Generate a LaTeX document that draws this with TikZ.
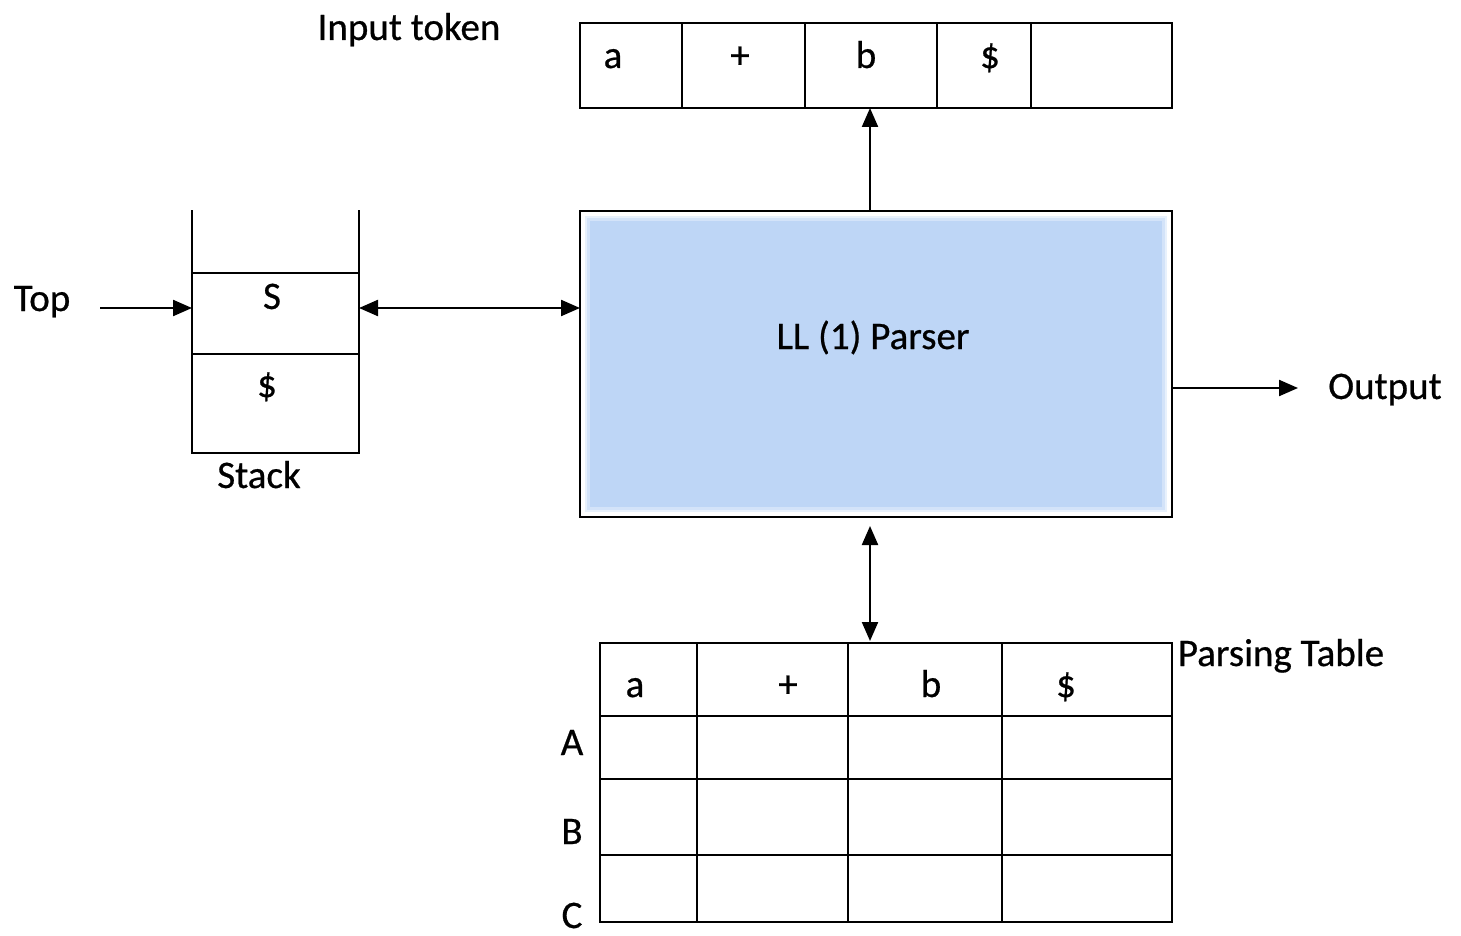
\documentclass[tikz,border=0pt]{standalone}
\usepackage{fontspec}
\setmainfont{Carlito}[FakeBold=0.6]
\usetikzlibrary{arrows.meta,calc}
\definecolor{parserblue}{RGB}{190,214,246}
\tikzset{
  lbl/.style={inner sep=0pt, anchor=base, font=\fontsize{39pt}{46pt}\selectfont},
  box/.style={draw=black, line width=2.2pt, inner sep=0pt, outer sep=0pt},
  rule/.style={line width=2.2pt},
  grid/.style={line width=2.6pt},
  tip/.tip={Triangle[length=19pt,width=16pt]},
  arr/.style={line width=2.2pt, -tip},
  biarr/.style={line width=2.2pt, tip-tip},
}
\begin{document}
\begin{tikzpicture}[x=1pt,y=-1pt]
\useasboundingbox (0,0) rectangle (1461,936);

% ---- input tape ----
\node[box, minimum width=592pt, minimum height=85pt] (tape) at (876,65.5) {};
\foreach \x in {682,805,937,1031} \draw[rule] (\x,23) -- (\x,108);
\node[lbl] (ta) at (613,68) {a};
\node[lbl] (tp) at (740,68) {+};
\node[lbl] (tb) at (866,68) {b};
\node[lbl] (td) at (990,68) {\$};
\node[lbl] (intok) at (409,40) {Input token};

% ---- parser (blue panel with soft edge) ----
\node[box, minimum width=592pt, minimum height=306pt] (parser) at (876,364) {};
\fill[parserblue, opacity=0.35] (585,216) rectangle (1167,512);
\fill[parserblue, opacity=0.5] (587,218) rectangle (1165,510);
\fill[parserblue] (590,221) rectangle (1162,507);
\node[lbl] (ptxt) at (873,349) {LL (1) Parser};

% ---- stack ----
\node[box, minimum width=167pt, minimum height=81pt] (stackS) at (275.5,313.5) {};
\node[box, minimum width=167pt, minimum height=99pt] (stackD) at (275.5,403.5) {};
\draw[line width=2.8pt] (stackS.north west) -- ++(0,-63);
\draw[line width=2.8pt] (stackS.north east) -- ++(0,-63);
\draw[line width=2.8pt] (stackS.north west) -- (stackD.south west);
\draw[line width=2.8pt] (stackS.north east) -- (stackD.south east);
\node[lbl] (sS) at (272,309) {S};
\node[lbl] (sD) at (267,397) {\$};
\node[lbl] (stacklbl) at (259,488) {Stack};

% ---- top pointer and stack link ----
\node[lbl] (toplbl) at (42,311) {Top};
\coordinate (topstart) at (100,308);
\draw[arr] (topstart) -- (topstart -| stackS.west);
\draw[biarr] (topstart -| stackS.east) -- (topstart -| parser.west);

% ---- parser to tape ----
\coordinate (px) at (870,0);
\draw[arr] (px |- parser.north) -- (px |- tape.south);

% ---- output ----
\coordinate (outtip) at (1298,388);
\draw[arr] (outtip -| parser.east) -- (outtip);
\node[lbl] (outlbl) at (1385,399) {Output};

% ---- parsing table ----
\node[draw=black, grid, inner sep=0pt, outer sep=0pt, minimum width=572pt, minimum height=279pt] (table) at (886,782.5) {};
\foreach \x in {697,848,1002} \draw[grid] (\x,643) -- (\x,922);
\foreach \y in {716,779,855} \draw[grid] (600,\y) -- (1172,\y);
\node[lbl] (ha) at (635,697) {a};
\node[lbl] (hp) at (788,697) {+};
\node[lbl] (hb) at (931,697) {b};
\node[lbl] (hd) at (1066,697) {\$};
\node[lbl] (rA) at (572,755) {A};
\node[lbl] (rB) at (572,844) {B};
\node[lbl] (rC) at (572,928) {C};
\node[lbl] (ptab) at (1281,666) {Parsing Table};

% ---- parser to table ----
\draw[biarr, shorten <=9pt, shorten >=2pt] (px |- parser.south) -- (px |- table.north);
\end{tikzpicture}
\end{document}
